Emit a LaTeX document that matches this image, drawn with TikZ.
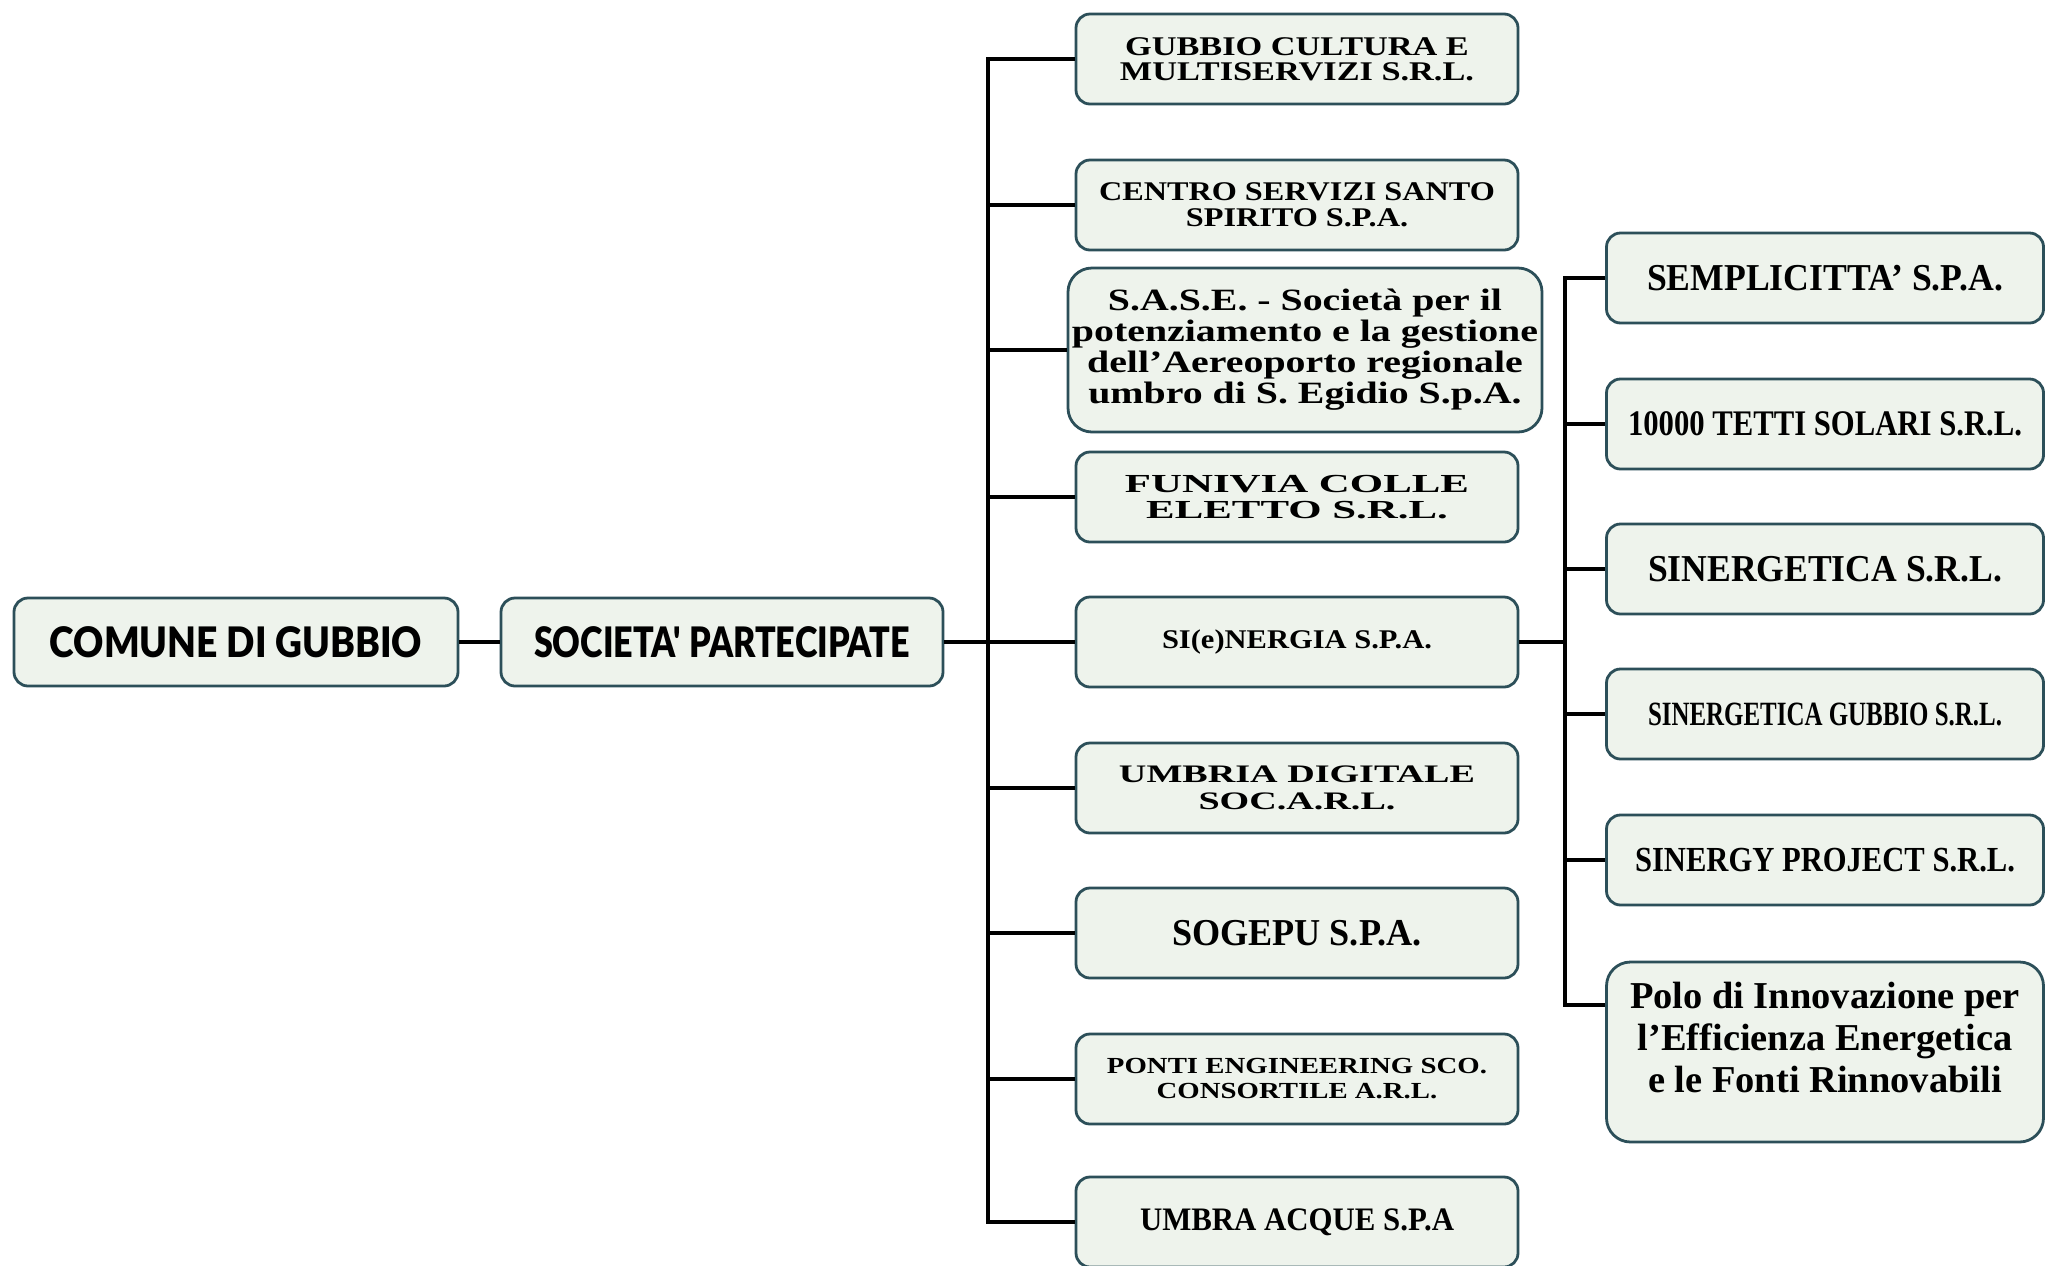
\documentclass[tikz,border=0pt]{standalone}
\usepackage{fontspec}
\usepackage{graphicx}
\setmainfont{Liberation Serif}
\newfontfamily\heavy{Lato}[UprightFont={* Black}]
\definecolor{boxc}{HTML}{EEF3EC}
\definecolor{bordc}{HTML}{2C4F59}
\newcommand{\fitbox}[4]{{\fontsize{#1}{#2}\selectfont\lineskiplimit=-30pt\relax
  \resizebox{#3}{\height}{\vbox{\halign{\hfil##\hfil\cr#4\crcr}}}}}
\begin{document}
\begin{tikzpicture}[x=0.5pt,y=-0.5pt,
  box/.style={draw=bordc, fill=boxc, line width=1.4pt, rounded corners=7pt, inner sep=0pt, text=black},
  midbox/.style={box, minimum width=221pt, minimum height=45pt},
  rightbox/.style={box, minimum width=218.5pt, minimum height=45pt},
  conn/.style={line width=1.8pt, black}]
\fill[white] (0,0) rectangle (2046,1265);
\useasboundingbox (0,0) rectangle (2046,1265);

% left
\node[box, minimum width=222pt, minimum height=44pt] (comune) at (236,642)
  {\heavy\fitbox{21}{24}{186pt}{COMUNE DI GUBBIO}};
\node[box, minimum width=221pt, minimum height=44pt] (soc) at (722,642)
  {\heavy\fitbox{21}{24}{188pt}{SOCIETA' PARTECIPATE}};

% middle column
\node[midbox] (m1) at (1297,59) {\bfseries\fitbox{13.5}{12.5}{177pt}{GUBBIO CULTURA E\cr MULTISERVIZI S.R.L.}};
\node[midbox] (m2) at (1297,205) {\bfseries\fitbox{13.5}{12.8}{198pt}{CENTRO SERVIZI SANTO\cr SPIRITO S.P.A.}};
\node[box, rounded corners=12pt, minimum width=237pt, minimum height=82pt] (m3) at (1305,350)
  {\bfseries\fitbox{15.5}{15.5}{233pt}{S.A.S.E. - Società per il\cr potenziamento e la gestione\cr dell'Aereoporto regionale\cr umbro di S. Egidio S.p.A.}};
\node[midbox] (m4) at (1297,497) {\bfseries\fitbox{13}{13.3}{172pt}{FUNIVIA COLLE\cr ELETTO S.R.L.}};
\node[midbox] (m5) at (1297,642) {\bfseries\fitbox{13.5}{15}{135pt}{SI(e)NERGIA S.P.A.}};
\node[midbox] (m6) at (1297,788) {\bfseries\fitbox{12.6}{13.3}{178pt}{UMBRIA DIGITALE\cr SOC.A.R.L.}};
\node[midbox] (m7) at (1297,933) {\bfseries\fitbox{19}{21}{125pt}{SOGEPU S.P.A.}};
\node[midbox] (m8) at (1297,1079) {\bfseries\fitbox{11.5}{12.5}{190pt}{PONTI ENGINEERING SCO.\cr CONSORTILE A.R.L.}};
\node[midbox] (m9) at (1297,1222) {\bfseries\fitbox{16.4}{18}{157pt}{UMBRA ACQUE S.P.A}};

% right column
\node[rightbox] (r1) at (1825,278) {\bfseries\fitbox{19}{21}{178pt}{SEMPLICITTA' S.P.A.}};
\node[rightbox] (r2) at (1825,424) {\bfseries\fitbox{18}{20}{197pt}{10000 TETTI SOLARI S.R.L.}};
\node[rightbox] (r3) at (1825,569) {\bfseries\fitbox{19}{21}{177pt}{SINERGETICA S.R.L.}};
\node[rightbox] (r4) at (1825,714) {\bfseries\fitbox{17}{19}{177pt}{SINERGETICA GUBBIO S.R.L.}};
\node[rightbox] (r5) at (1825,860) {\bfseries\fitbox{17.6}{19}{190pt}{SINERGY PROJECT S.R.L.}};
\node[box, rounded corners=12pt, minimum width=218.5pt, minimum height=90pt] (r6) at (1825,1052)
  {\bfseries\fitbox{19}{21}{195pt}{Polo di Innovazione per\cr l'Efficienza Energetica\cr e le Fonti Rinnovabili\cr\noalign{\vskip 15pt}}};

% connectors
\coordinate (T) at (988,642);
\coordinate (R) at (1565,642);
\coordinate (P) at (1565,1005);
\draw[conn] (comune.east) -- (soc.west);
\draw[conn] (soc.east) -- (T);
\draw[conn, line cap=rect] (T |- m1.west) -- (T |- m9.west);
\foreach \n in {m1,m2,m3,m4,m5,m6,m7,m8,m9}
  \draw[conn] (T |- \n.west) -- (\n.west);
\draw[conn] (m5.east) -- (R);
\draw[conn, line cap=rect] (R |- r1.west) -- (P);
\foreach \n in {r1,r2,r3,r4,r5}
  \draw[conn] (R |- \n.west) -- (\n.west);
\draw[conn] (P) -- (P -| r6.west);
\end{tikzpicture}
\end{document}
